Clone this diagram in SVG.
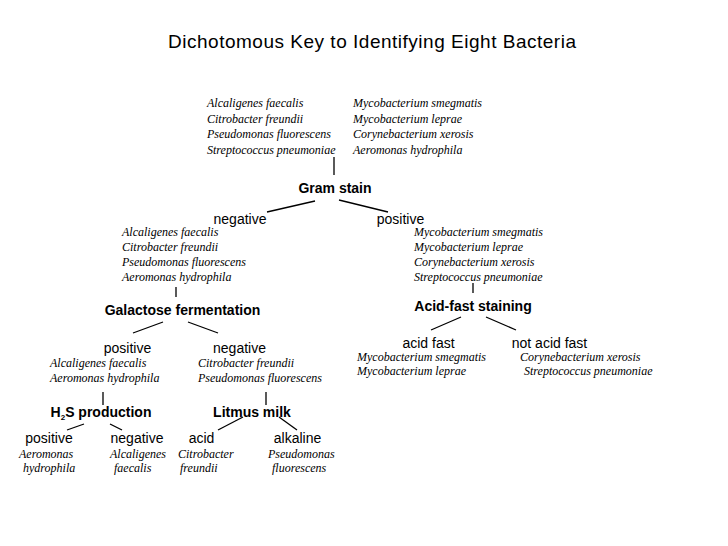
<svg xmlns="http://www.w3.org/2000/svg" width="728" height="546" viewBox="0 0 728 546">
<style>
.t{font-family:"Liberation Sans",Arial,sans-serif;font-size:19px;fill:#000}
.h{font-family:"Liberation Sans",Arial,sans-serif;font-size:14px;font-weight:bold;fill:#000}
.l{font-family:"Liberation Sans",Arial,sans-serif;font-size:14px;fill:#000}
.s{font-family:"Liberation Serif","Times New Roman",serif;font-size:12px;font-style:italic;fill:#000}
.c line{stroke:#000;stroke-width:1.3}
</style>
<rect width="728" height="546" fill="#fff"/>
<text class="t" x="168" y="48" textLength="408" lengthAdjust="spacing">Dichotomous Key to Identifying Eight Bacteria</text>
<g id="top-list">
<text class="s" x="207" y="107">Alcaligenes faecalis</text>
<text class="s" x="207" y="122.5">Citrobacter freundii</text>
<text class="s" x="207" y="138">Pseudomonas fluorescens</text>
<text class="s" x="207" y="153.5">Streptococcus pneumoniae</text>
<text class="s" x="353" y="107">Mycobacterium smegmatis</text>
<text class="s" x="353" y="122.5">Mycobacterium leprae</text>
<text class="s" x="353" y="138">Corynebacterium xerosis</text>
<text class="s" x="353" y="153.5">Aeromonas hydrophila</text>
</g>
<g id="gram-stain"><text class="h" x="335" y="193" text-anchor="middle">Gram stain</text></g>
<g id="gram-negative">
<text class="l" x="240" y="224" text-anchor="middle">negative</text>
<text class="s" x="122" y="236">Alcaligenes faecalis</text>
<text class="s" x="122" y="251">Citrobacter freundii</text>
<text class="s" x="122" y="266">Pseudomonas fluorescens</text>
<text class="s" x="122" y="281">Aeromonas hydrophila</text>
</g>
<g id="gram-positive">
<text class="l" x="400.5" y="224" text-anchor="middle">positive</text>
<text class="s" x="414" y="236">Mycobacterium smegmatis</text>
<text class="s" x="414" y="251">Mycobacterium leprae</text>
<text class="s" x="414" y="266">Corynebacterium xerosis</text>
<text class="s" x="414" y="281">Streptococcus pneumoniae</text>
</g>
<g id="galactose"><text class="h" x="182.5" y="315" text-anchor="middle">Galactose fermentation</text></g>
<g id="acid-fast-staining"><text class="h" x="473" y="311" text-anchor="middle">Acid-fast staining</text></g>
<g id="gal-positive">
<text class="l" x="127.5" y="353" text-anchor="middle">positive</text>
<text class="s" x="50" y="367">Alcaligenes faecalis</text>
<text class="s" x="50" y="382">Aeromonas hydrophila</text>
</g>
<g id="gal-negative">
<text class="l" x="239.5" y="353" text-anchor="middle">negative</text>
<text class="s" x="198" y="367">Citrobacter freundii</text>
<text class="s" x="198" y="382">Pseudomonas fluorescens</text>
</g>
<g id="acid-fast">
<text class="l" x="428.5" y="348" text-anchor="middle">acid fast</text>
<text class="s" x="357" y="361">Mycobacterium smegmatis</text>
<text class="s" x="357" y="375">Mycobacterium leprae</text>
</g>
<g id="not-acid-fast">
<text class="l" x="549.5" y="348" text-anchor="middle">not acid fast</text>
<text class="s" x="520" y="361">Corynebacterium xerosis</text>
<text class="s" x="524" y="375">Streptococcus pneumoniae</text>
</g>
<g id="h2s"><text class="h" x="101" y="417" text-anchor="middle">H<tspan font-size="8" dy="3">2</tspan><tspan dy="-3">S production</tspan></text></g>
<g id="litmus"><text class="h" x="252" y="417" text-anchor="middle">Litmus milk</text></g>
<g id="h2s-positive">
<text class="l" x="49" y="443" text-anchor="middle">positive</text>
<text class="s" x="19" y="458">Aeromonas</text>
<text class="s" x="23" y="472">hydrophila</text>
</g>
<g id="h2s-negative">
<text class="l" x="137" y="443" text-anchor="middle">negative</text>
<text class="s" x="110" y="458">Alcaligenes</text>
<text class="s" x="114" y="472">faecalis</text>
</g>
<g id="litmus-acid">
<text class="l" x="201.5" y="443" text-anchor="middle">acid</text>
<text class="s" x="178" y="458">Citrobacter</text>
<text class="s" x="180" y="472">freundii</text>
</g>
<g id="litmus-alkaline">
<text class="l" x="297.5" y="443" text-anchor="middle">alkaline</text>
<text class="s" x="268" y="458">Pseudomonas</text>
<text class="s" x="272" y="472">fluorescens</text>
</g>
<g id="connectors" class="c">
<line x1="334" y1="157" x2="334" y2="175"/>
<line x1="315" y1="201" x2="267" y2="212"/>
<line x1="339" y1="200" x2="388" y2="212"/>
<line x1="176" y1="287" x2="176" y2="297"/>
<line x1="473" y1="283" x2="473" y2="293"/>
<line x1="163" y1="322" x2="133" y2="333"/>
<line x1="188" y1="322" x2="218" y2="333"/>
<line x1="461" y1="317" x2="431" y2="330"/>
<line x1="486" y1="317" x2="516" y2="330"/>
<line x1="103" y1="392" x2="103" y2="405"/>
<line x1="266" y1="392" x2="266" y2="405"/>
<line x1="84" y1="424" x2="67" y2="430"/>
<line x1="110" y1="424" x2="122" y2="430"/>
<line x1="243" y1="417" x2="218" y2="430"/>
<line x1="279" y1="417" x2="297" y2="430"/>
</g>
</svg>
